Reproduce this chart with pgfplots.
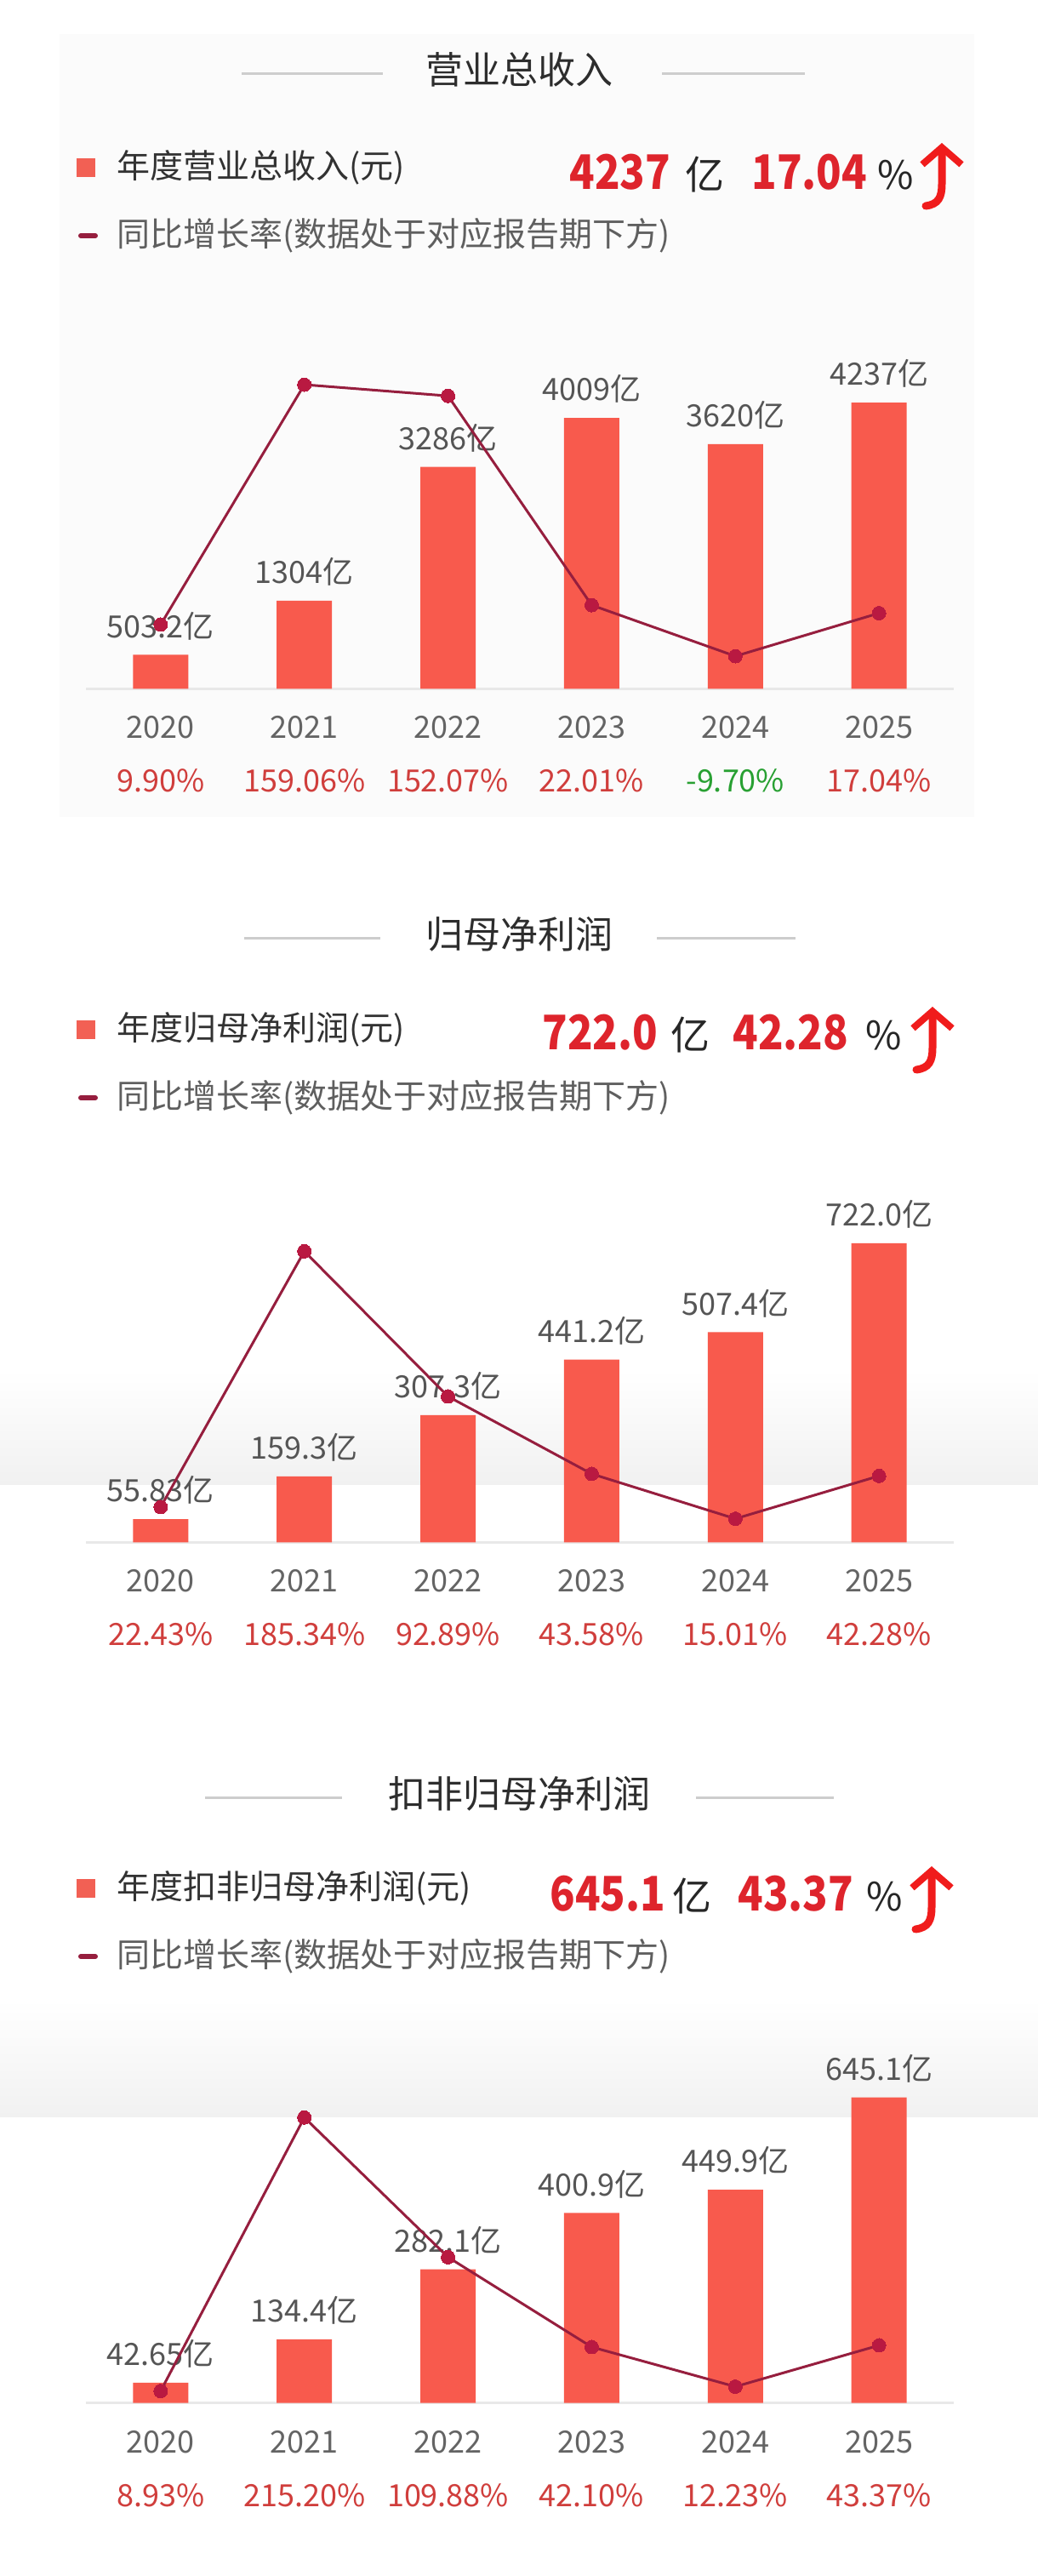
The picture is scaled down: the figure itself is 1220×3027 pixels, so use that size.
\documentclass[border=0pt]{standalone}
\usepackage{fontspec}
\setmainfont{Noto Sans CJK SC}
\newfontfamily\hnumfont[FakeStretch=0.87]{Noto Sans CJK SC}
\usepackage{pgfplots}
\pgfplotsset{compat=1.18}
\usetikzlibrary{arrows.meta}

\definecolor{barred}{RGB}{248,90,77}
\definecolor{sqred}{RGB}{242,96,84}
\definecolor{linered}{RGB}{150,30,62}
\definecolor{markred}{RGB}{185,25,65}
\definecolor{hred}{RGB}{222,36,44}
\definecolor{arrred}{RGB}{240,28,28}
\definecolor{pctred}{RGB}{208,62,60}
\definecolor{pctgreen}{RGB}{40,160,50}
\definecolor{yeargray}{RGB}{100,100,100}
\definecolor{valgray}{RGB}{85,85,85}
\definecolor{titlegray}{RGB}{45,45,45}
\definecolor{leg1}{RGB}{50,50,50}
\definecolor{leg2}{RGB}{95,95,95}
\definecolor{basegray}{RGB}{232,232,232}
\definecolor{rulegray}{RGB}{205,205,205}
\definecolor{cardgray}{RGB}{251,251,251}
\definecolor{bandgray}{RGB}{241,241,241}

\pgfplotsset{
  barax/.style={scale only axis, anchor=south west, width=510pt,
    xmin=-0.52, xmax=5.52, ymin=0, clip=false,
    axis y line=none, axis x line*=bottom,
    x axis line style={draw=basegray, line width=1.5pt, -},
    xtick={0,...,5}, major tick length=0pt,
    xticklabel style={align=center, font=\fontsize{18}{31.5}\selectfont,
      text=yeargray, inner sep=0pt},
    xticklabel shift=16pt},
  lineax/.style={scale only axis, anchor=south west, width=510pt,
    xmin=-0.52, xmax=5.52, hide axis, clip=false},
  bars/.style={ybar, fill=barred, draw=none, bar width=32.5pt,
    point meta=explicit symbolic, nodes near coords={\pgfplotspointmeta},
    every node near coord/.append style={anchor=south, inner sep=0pt,
      text depth=0pt, yshift=10pt, font=\fontsize{18}{20}\selectfont,
      text=valgray}},
  growth/.style={color=linered, line width=1.5pt, mark=*, mark size=4pt,
    mark options={fill=markred, draw=markred, line width=0pt}},
}

% header pieces, coordinates in pixels of the reference
\newcommand{\panelhead}[8]{% title, ty, rule l1,l2,r1,r2, legend text, legend y
  \node[font=\fontsize{22}{26}\selectfont, text=titlegray] at (610,#2) {#1};
  \draw[rulegray, line width=1.5pt] (#3,#2+4) -- (#4,#2+4);
  \draw[rulegray, line width=1.5pt] (#5,#2+4) -- (#6,#2+4);
  \fill[sqred] (90,#8-11) rectangle (112,#8+11);
  \node[anchor=west, inner sep=0pt, font=\fontsize{19.5}{24}\selectfont, text=leg1] at (137,#8) {#7};
  \draw[linered, line width=3pt, line cap=round] (95,#8+80) -- (112,#8+80);
  \node[anchor=west, inner sep=0pt, font=\fontsize{19.5}{24}\selectfont, text=leg2] at (137,#8+80) {同比增长率(数据处于对应报告期下方)};
}
\newcommand{\headnums}[7]{% base y, x num, num, x unit, x pct, pct, x %
  \node[anchor=base west, inner sep=0pt, font=\fontsize{28}{30}\hnumfont\bfseries, text=hred] at (#2,#1) {#3};
  \node[anchor=base west, inner sep=0pt, font=\fontsize{23}{26}\selectfont, text=black!85] at (#4,#1) {亿};
  \node[anchor=base west, inner sep=0pt, font=\fontsize{28}{30}\hnumfont\bfseries, text=hred] at (#5,#1) {#6};
  \node[anchor=base west, inner sep=0pt, font=\fontsize{23}{26}\selectfont, text=black!85] at (#7,#1) {\%};
}
\newcommand{\riseArrow}[2]{% centre x, top y
  \draw[arrred, line width=4.5pt, line cap=round,
    -{Straight Barb[length=10pt, width=23pt, line width=4pt]}]
    (#1-19,#2+82) .. controls (#1-4,#2+80) and (#1,#2+72) .. (#1,#2+56) -- (#1,#2+8);
}

\begin{document}
\begin{tikzpicture}
\begin{scope}[x=0.5pt, y=-0.5pt]
  \path[use as bounding box] (0,0) rectangle (1220,3027);
  \fill[white] (0,0) rectangle (1220,3027);
  \fill[cardgray] (70,40) rectangle (1145,960);
  \shade[top color=white, bottom color=bandgray] (0,1610) rectangle (1220,1744);
  \shade[top color=white, bottom color=bandgray] (0,2350) rectangle (1220,2487);

  \panelhead{营业总收入}{82}{284}{450}{778}{946}{年度营业总收入(元)}{197}
  \headnums{222}{669}{4237}{805}{883}{17.04}{1031}
  \riseArrow{1107}{160}

  \panelhead{归母净利润}{1098}{287}{447}{772}{935}{年度归母净利润(元)}{1210}
  \headnums{1233}{637}{722.0}{788}{861}{42.28}{1017}
  \riseArrow{1096}{1175}

  \panelhead{扣非归母净利润}{2108}{241}{402}{818}{980}{年度扣非归母净利润(元)}{2219}
  \headnums{2245}{646}{645.1}{790}{867}{43.37}{1018}
  \riseArrow{1095}{2185}
\end{scope}

% ---- 营业总收入 ----
\begin{axis}[barax, at={(50.5pt,-404.7pt)}, height=198.5pt, ymax=5000,
  xticklabels={{2020\\\textcolor{pctred}{9.90\%}},
               {2021\\\textcolor{pctred}{159.06\%}},
               {2022\\\textcolor{pctred}{152.07\%}},
               {2023\\\textcolor{pctred}{22.01\%}},
               {2024\\\textcolor{pctgreen}{-9.70\%}},
               {2025\\\textcolor{pctred}{17.04\%}}}]
\addplot[bars] coordinates {
  (0,503.2) [503.2亿]
  (1,1304)  [1304亿]
  (2,3286)  [3286亿]
  (3,4009)  [4009亿]
  (4,3620)  [3620亿]
  (5,4237)  [4237亿]
};
\end{axis}
\begin{axis}[lineax, at={(50.5pt,-404.7pt)}, height=198.5pt, ymin=-30, ymax=180]
\addplot[growth] coordinates {
  (0,9.90) (1,159.06) (2,152.07) (3,22.01) (4,-9.70) (5,17.04)
};
\end{axis}

% ---- 归母净利润 ----
\begin{axis}[barax, at={(50.5pt,-906.15pt)}, height=194.65pt, ymax=800,
  xticklabels={{2020\\\textcolor{pctred}{22.43\%}},
               {2021\\\textcolor{pctred}{185.34\%}},
               {2022\\\textcolor{pctred}{92.89\%}},
               {2023\\\textcolor{pctred}{43.58\%}},
               {2024\\\textcolor{pctred}{15.01\%}},
               {2025\\\textcolor{pctred}{42.28\%}}}]
\addplot[bars] coordinates {
  (0,55.83) [55.83亿]
  (1,159.3) [159.3亿]
  (2,307.3) [307.3亿]
  (3,441.2) [441.2亿]
  (4,507.4) [507.4亿]
  (5,722.0) [722.0亿]
};
\end{axis}
\begin{axis}[lineax, at={(50.5pt,-906.15pt)}, height=194.65pt, ymin=0, ymax=211]
\addplot[growth] coordinates {
  (0,22.43) (1,185.34) (2,92.89) (3,43.58) (4,15.01) (5,42.28)
};
\end{axis}

% ---- 扣非归母净利润 ----
\begin{axis}[barax, at={(50.5pt,-1411.75pt)}, height=194.75pt, ymax=700,
  xticklabels={{2020\\\textcolor{pctred}{8.93\%}},
               {2021\\\textcolor{pctred}{215.20\%}},
               {2022\\\textcolor{pctred}{109.88\%}},
               {2023\\\textcolor{pctred}{42.10\%}},
               {2024\\\textcolor{pctred}{12.23\%}},
               {2025\\\textcolor{pctred}{43.37\%}}}]
\addplot[bars] coordinates {
  (0,42.65) [42.65亿]
  (1,134.4) [134.4亿]
  (2,282.1) [282.1亿]
  (3,400.9) [400.9亿]
  (4,449.9) [449.9亿]
  (5,645.1) [645.1亿]
};
\end{axis}
\begin{axis}[lineax, at={(50.5pt,-1411.75pt)}, height=194.75pt, ymin=0, ymax=250]
\addplot[growth] coordinates {
  (0,8.93) (1,215.20) (2,109.88) (3,42.10) (4,12.23) (5,43.37)
};
\end{axis}
\end{tikzpicture}
\end{document}
